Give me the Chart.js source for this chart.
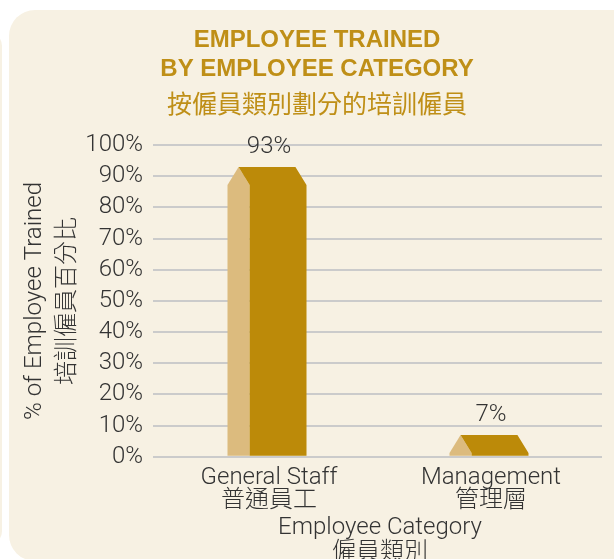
<!DOCTYPE html>
<html><head><meta charset="utf-8">
<script src="https://cdn.jsdelivr.net/npm/chart.js@4"></script>
<style>
html,body{margin:0;padding:0;background:#fff;width:614px;height:559px;overflow:hidden;}
#side{position:absolute;left:-40px;top:32px;width:42px;height:513px;border-radius:14px;background:#f7f1e3;}
#panel{position:absolute;left:9px;top:10px;width:660px;height:551px;border-radius:26px;background:#f7f1e3;}
#wrap{position:absolute;left:0;top:0;width:614px;height:559px;}
</style></head><body>
<div id="side"></div><div id="panel"></div>
<div id="wrap"><canvas id="c" width="614" height="559"></canvas></div>
<script>
const titleLines = ['EMPLOYEE TRAINED', 'BY EMPLOYEE CATEGORY'];
const subtitleText = '按僱員類別劃分的培訓僱員';
const categories = [['General Staff', '普通員工'], ['Management', '管理層']];
const trainedPct = [93, 7];
const yTickLabels = ['0%','10%','20%','30%','40%','50%','60%','70%','80%','90%','100%'];
const yAxisTitle = ['% of Employee Trained', '培訓僱員百分比'];
const xAxisTitle = ['Employee Category', '僱員類別'];

const GOLD = '#bf8f17';
const DARK = '#bc8a09';
const LIGHT = '#dcbb7e';
const TEXT = '#333333';
const FONT = "Roboto, 'Liberation Sans', 'Noto Sans CJK TC', sans-serif";
const TFONT = "'Liberation Sans', 'Noto Sans CJK TC', sans-serif";

const bar3d = {
  id: 'bar3d',
  afterDatasetsDraw(chart) {
    const ctx = chart.ctx;
    const meta = chart.getDatasetMeta(0);
    meta.data.forEach((el, i) => {
      const p = el.getProps(['x', 'y', 'base', 'width'], true);
      const w = p.width;
      const L = p.x - w / 2 - 2, R = L + w;
      const M = L + w * 0.28;
      const bx = w * 0.14;
      const by = Math.min(18, p.base - p.y);
      ctx.save();
      ctx.fillStyle = LIGHT;
      ctx.beginPath();
      ctx.moveTo(L, p.base); ctx.lineTo(L, p.y + by); ctx.lineTo(L + bx, p.y);
      ctx.lineTo(M, p.y + by); ctx.lineTo(M, p.base); ctx.closePath(); ctx.fill();
      ctx.fillStyle = DARK;
      ctx.beginPath();
      ctx.moveTo(M, p.base); ctx.lineTo(M, p.y + by); ctx.lineTo(L + bx, p.y);
      ctx.lineTo(R - bx, p.y); ctx.lineTo(R, p.y + by); ctx.lineTo(R, p.base);
      ctx.closePath(); ctx.fill();
      ctx.fillStyle = TEXT;
      ctx.font = "300 24px " + FONT;
      ctx.textAlign = 'center';
      ctx.textBaseline = 'middle';
      ctx.fillText(trainedPct[i] + '%', p.x, p.y - 20);
      ctx.restore();
    });
  }
};

new Chart(document.getElementById('c'), {
  type: 'bar',
  data: {
    labels: categories,
    datasets: [{
      data: trainedPct,
      backgroundColor: 'rgba(0,0,0,0)',
      borderWidth: 0,
      barThickness: 79
    }]
  },
  options: {
    responsive: false,
    animation: false,
    devicePixelRatio: 1,
    layout: { padding: { top: 10, right: 12, bottom: -3, left: 32 } },
    plugins: {
      legend: { display: false },
      tooltip: { enabled: false },
      title: {
        display: true, text: titleLines, color: GOLD,
        font: { family: TFONT, size: 24, weight: 'bold', lineHeight: 1.21 },
        padding: { top: 16, bottom: 0 }
      },
      subtitle: {
        display: true, text: subtitleText, color: GOLD,
        font: { family: TFONT, size: 25, weight: 'normal', lineHeight: 1.2 },
        padding: { top: 7, bottom: 24 }
      }
    },
    scales: {
      x: {
        grid: { display: false, drawTicks: false },
        border: { display: false },
        ticks: {
          color: TEXT, padding: 10, maxRotation: 0, autoSkip: false,
          font: { family: FONT, size: 24, weight: 300, lineHeight: 0.94 }
        },
        title: {
          display: true, text: xAxisTitle, color: TEXT,
          font: { family: FONT, size: 24, weight: 300, lineHeight: 1.02 },
          padding: { top: 0, bottom: -3 }
        },
        afterFit(s) { s.height = 105.2; }
      },
      y: {
        min: 0, max: 100,
        ticks: {
          stepSize: 10, color: TEXT, padding: 10, autoSkip: false, maxTicksLimit: 20,
          font: { family: FONT, size: 24, weight: 300, lineHeight: 1 },
          callback: (v, i) => yTickLabels[i]
        },
        grid: { color: '#cbcbcb', lineWidth: 2, tickLength: 5, drawTicks: true },
        border: { display: false },
        title: {
          display: true, text: yAxisTitle, color: TEXT,
          font: { family: FONT, size: 24, weight: 300, lineHeight: 1.375 },
          padding: { top: -13.5, bottom: 0 }
        },
        afterFit(s) { s.width = 126; }
      }
    }
  },
  plugins: [bar3d]
});
</script>
</body></html>
